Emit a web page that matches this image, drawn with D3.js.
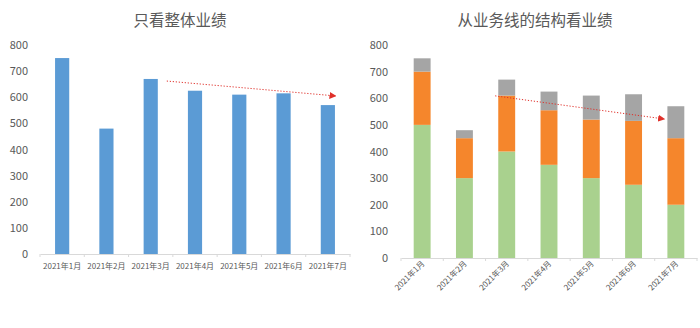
<!DOCTYPE html>
<html>
<head>
<meta charset="utf-8">
<script src="https://cdn.jsdelivr.net/npm/d3@7"></script>
<style>
  body { margin: 0; background: #fff; }
  svg { display: block; }
  text { font-family: "Noto Sans CJK SC", "Open Sans", sans-serif; }
</style>
</head>
<body>
<script>
const months = ['2021年1月', '2021年2月', '2021年3月', '2021年4月', '2021年5月', '2021年6月', '2021年7月'];
const totals = [750, 480, 670, 625, 610, 615, 570];
const lineA = [500, 300, 400, 350, 300, 275, 200];   // green
const lineB = [200, 150, 210, 205, 220, 240, 250];   // orange
const lineC = [50, 30, 60, 70, 90, 100, 120];        // gray
const yTicks = [0, 100, 200, 300, 400, 500, 600, 700, 800];
// trend arrows: [month, value] at start and end
const trendLeft = [['2021年3月', 662], ['2021年7月', 605]];
const trendRight = [['2021年3月', 609], ['2021年7月', 522]];

const width = 700, height = 328;
const svg = d3.select('body').append('svg')
  .attr('width', width)
  .attr('height', height);

svg.append('defs').append('marker')
  .attr('id', 'arrowhead')
  .attr('viewBox', '0 -5 10 10')
  .attr('refX', 9)
  .attr('refY', 0)
  .attr('orient', 'auto')
  .attr('markerUnits', 'userSpaceOnUse')
  .attr('markerWidth', 7)
  .attr('markerHeight', 7)
  .append('path')
  .attr('d', 'M0,-5L10,0L0,5Z')
  .attr('fill', '#e0302a');

function panel(opt)
{
  const g = svg.append('g');

  const x = d3.scaleBand().domain(months).range(opt.xr).paddingInner(opt.pad).paddingOuter(opt.pad / 2);
  const y = d3.scaleLinear().domain([0, 800]).range(opt.yr);

  g.append('text')
    .attr('x', opt.titleX)
    .attr('y', 26)
    .attr('text-anchor', 'middle')
    .attr('font-size', 15.5)
    .attr('fill', '#595959')
    .text(opt.title);

  // y labels
  g.selectAll('.ylab')
    .data(yTicks)
    .enter()
    .append('text')
    .attr('x', opt.yLabX)
    .attr('y', d => y(d) + 4)
    .attr('text-anchor', 'end')
    .attr('font-size', 11)
    .attr('font-family', '"Open Sans", sans-serif')
    .attr('fill', '#595959')
    .text(d => d);

  // baseline with small ticks at band edges
  const xAxis = d3.axisBottom(x).tickSize(0).tickFormat('');
  const ax = g.append('g')
    .attr('transform', `translate(0,${opt.yr[0]})`)
    .call(xAxis);
  ax.select('.domain').attr('stroke', '#d9d9d9');
  const step = x.step();
  g.selectAll('.sep')
    .data(d3.range(months.length + 1))
    .enter()
    .append('line')
    .attr('x1', i => opt.xr[0] + i * step)
    .attr('x2', i => opt.xr[0] + i * step)
    .attr('y1', opt.yr[0])
    .attr('y2', opt.yr[0] + 3)
    .attr('stroke', '#d9d9d9');

  opt.draw(g, x, y);

  // x labels
  const labs = g.selectAll('.xlab')
    .data(months)
    .enter()
    .append('text')
    .attr('font-size', 8)
    .attr('fill', '#595959')
    .text(d => d);
  if (opt.rotate) {
    labs.attr('text-anchor', 'end')
      .attr('transform', d => `translate(${x(d) + x.bandwidth() / 2 + 3},${opt.yr[0] + 6}) rotate(-45)`);
  } else {
    labs.attr('text-anchor', 'middle')
      .attr('x', d => x(d) + x.bandwidth() / 2)
      .attr('y', opt.yr[0] + 15);
  }

  // trend arrow
  const t = opt.trend;
  g.append('line')
    .attr('x1', x(t[0][0]) + x.bandwidth() + opt.trendDx[0])
    .attr('y1', y(t[0][1]))
    .attr('x2', x(t[1][0]) + opt.trendDx[1])
    .attr('y2', y(t[1][1]))
    .attr('stroke', '#e0302a')
    .attr('stroke-width', 1)
    .attr('stroke-dasharray', '1.2,1.8')
    .attr('marker-end', 'url(#arrowhead)');
}

panel({
  title: '只看整体业绩',
  titleX: 180,
  xr: [40, 350],
  yr: [254, 45],
  pad: 0.68,
  yLabX: 28,
  rotate: false,
  trend: trendLeft,
  trendDx: [9, 15],
  draw: (g, x, y) => {
    g.selectAll('.bar')
      .data(totals)
      .enter()
      .append('rect')
      .attr('x', (d, i) => x(months[i]))
      .attr('y', d => y(d))
      .attr('width', x.bandwidth())
      .attr('height', d => y(0) - y(d))
      .attr('fill', '#5b9bd5');
  }
});

panel({
  title: '从业务线的结构看业绩',
  titleX: 535,
  xr: [401, 697],
  yr: [258, 45],
  pad: 0.6,
  yLabX: 388,
  rotate: true,
  trend: trendRight,
  trendDx: [-20, -3],
  draw: (g, x, y) => {
    const rows = months.map((m, i) => ({ m: m, a: lineA[i], b: lineB[i], c: lineC[i] }));
    const stack = d3.stack().keys(['a', 'b', 'c'])(rows);
    const colors = { a: '#a9d18e', b: '#f5862c', c: '#a5a5a5' };
    g.selectAll('.layer')
      .data(stack)
      .enter()
      .append('g')
      .attr('fill', d => colors[d.key])
      .selectAll('rect')
      .data(d => d)
      .enter()
      .append('rect')
      .attr('x', d => x(d.data.m))
      .attr('y', d => y(d[1]))
      .attr('width', x.bandwidth())
      .attr('height', d => y(d[0]) - y(d[1]));
  }
});
</script>
</body>
</html>
